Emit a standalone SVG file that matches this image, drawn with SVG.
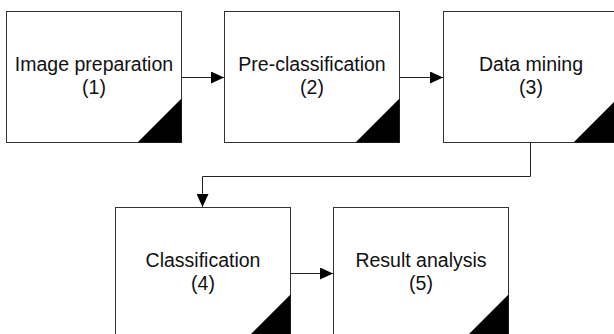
<svg xmlns="http://www.w3.org/2000/svg" width="614" height="334" viewBox="0 0 614 334">
<defs>
<style>
.box{fill:#fff;stroke:#333;stroke-width:1}
.tri{fill:#000}
.lbl{font-family:"Liberation Sans",Arial,sans-serif;font-size:19.5px;fill:#111;text-anchor:middle}
.con{fill:none;stroke:#222;stroke-width:1}
</style>
<marker id="ah" markerWidth="13" markerHeight="12" refX="13" refY="6" orient="auto" markerUnits="userSpaceOnUse">
<path d="M0,0 L13,6 L0,12 Z" fill="#000"/>
</marker>
</defs>
<rect width="614" height="334" fill="#fff"/>
<g id="connectors">
<path class="con" d="M181.5,77.5 H224" marker-end="url(#ah)"/>
<path class="con" d="M399.5,77.5 H443" marker-end="url(#ah)"/>
<path class="con" d="M530.5,142.5 V176.5 H202.5 V207" marker-end="url(#ah)"/>
<path class="con" d="M290.5,273.5 H333" marker-end="url(#ah)"/>
</g>
<g id="node1">
<rect class="box" x="6.5" y="11.5" width="175" height="131"/>
<polygon class="tri" points="137.5,142.5 181.5,98.5 181.5,142.5"/>
<text class="lbl" x="94" y="71">Image preparation</text>
<text class="lbl" x="94" y="94">(1)</text>
</g>
<g id="node2">
<rect class="box" x="224.5" y="11.5" width="175" height="131"/>
<polygon class="tri" points="355.5,142.5 399.5,98.5 399.5,142.5"/>
<text class="lbl" x="312" y="71">Pre-classification</text>
<text class="lbl" x="312" y="94">(2)</text>
</g>
<g id="node3">
<rect class="box" x="443.5" y="11.5" width="175" height="131"/>
<polygon class="tri" points="573.5,142.5 617.5,98.5 617.5,142.5"/>
<text class="lbl" x="531" y="71">Data mining</text>
<text class="lbl" x="531" y="94">(3)</text>
</g>
<g id="node4">
<rect class="box" x="115.5" y="207.5" width="175" height="131"/>
<polygon class="tri" points="246.5,338.5 290.5,294.5 290.5,338.5"/>
<text class="lbl" x="203" y="267">Classification</text>
<text class="lbl" x="203" y="290">(4)</text>
</g>
<g id="node5">
<rect class="box" x="333.5" y="207.5" width="175" height="131"/>
<polygon class="tri" points="464.5,338.5 508.5,294.5 508.5,338.5"/>
<text class="lbl" x="421" y="267">Result analysis</text>
<text class="lbl" x="421" y="290">(5)</text>
</g>
</svg>
